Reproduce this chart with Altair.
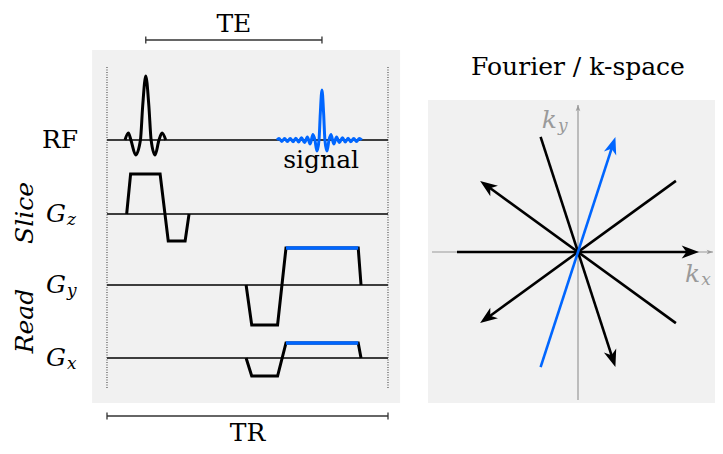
import altair as alt
import numpy as np
import pandas as pd

# ------------------------------------------------------------------
# Pulse sequence (time in arbitrary units, TR = 100; amplitudes in a.u.)
TR = 100.0
lanes = ["RF", "Gz", "Gy", "Gx"]
lane_level = [-13.2, -20.6, -27.7, -35.0]

# RF excitation (sinc pulse)
rf_t = [6.4, 7.6, 8.5, 10.2, 11.9, 12.7, 13.8, 14.9, 15.7, 17.1, 18.5, 19.6, 20.9]
rf_a = [0.0, 0.7, 0.0, -1.5, 0.0, 3.4, 6.4, 3.4, 0.0, -1.5, 0.0, 0.7, 0.0]

# echo signal
sig_t = [60.5, 61.2, 62.2, 63.2, 64.2, 65.2, 66.2, 67.2, 68.2, 69.2, 70.3, 71.3, 72.3,
         73.3, 74.0, 74.7, 75.45, 75.9, 76.5,
         77.1, 77.55, 78.3, 79.0, 79.7, 80.7, 81.7, 82.7, 83.8, 84.8, 85.8, 86.8,
         87.8, 88.8, 89.8, 90.7]
sig_a = [0.0, 0.14, -0.14, 0.15, -0.15, 0.16, -0.17, 0.18, -0.2, 0.22, -0.26, 0.3, -0.4,
         0.55, 0.0, -1.1, 0.0, 2.6, 5.0,
         2.6, 0.0, -1.1, 0.0, 0.55, -0.4, 0.3, -0.26, 0.22, -0.2, 0.18, -0.17,
         0.16, -0.15, 0.15, 0.0]

# gradients
gz_t = [7.0, 8.4, 18.9, 21.8, 27.8, 29.2]
gz_a = [0.0, 4.0, 4.0, -2.7, -2.7, 0.0]
gy_t = [49.5, 51.5, 60.7, 63.7, 89.4, 90.4]
gy_a = [0.0, -4.0, -4.0, 3.7, 3.7, 0.0]
gx_t = [49.5, 51.5, 60.7, 63.7, 89.4, 90.4]
gx_a = [0.0, -1.8, -1.8, 1.5, 1.5, 0.0]
readout_idx = [3, 4]   # plateau of the read-out gradients

# k-space radial spokes
spoke_angle = [0, 36, 72, 108, 144]
spoke_arrow = [1, -1, 1, -1, 1]          # end that carries the arrowhead
spoke_readout = [False, False, True, False, False]
k_max = 1.0

# ------------------------------------------------------------------
FONT = "DejaVu Serif"
FS = 25
FS_SUB = 17
BLACK = "#000000"
BLUE = "#0066ff"
PANEL = "#f1f1f1"
AXIS_GRAY = "#9a9a9a"
BRACKET = "#333333"
ARROW = "M0,0L0.75,2L0,1.45L-0.75,2Z"

xs_l = alt.Scale(domain=[-35.231, 216.370], nice=False, zero=False)
ys_l = alt.Scale(domain=[-43.8, 0.0], nice=False, zero=False)
xs_r = alt.Scale(domain=[-4.7107, 1.1322], nice=False, zero=False)
ys_r = alt.Scale(domain=[-1.6033, 2.0165], nice=False, zero=False)


def XL(f):
    return alt.X(f, type="quantitative", scale=xs_l, axis=None)


def YL(f):
    return alt.Y(f, type="quantitative", scale=ys_l, axis=None)


def XR(f):
    return alt.X(f, type="quantitative", scale=xs_r, axis=None)


def YR(f):
    return alt.Y(f, type="quantitative", scale=ys_r, axis=None)


# ---------------- left: pulse sequence ----------------
lvl = dict(zip(lanes, lane_level))

panel_l = pd.DataFrame({"t0": [-5.3], "t1": [104.3], "y0": [-4.2], "y1": [-39.5]})
base_df = pd.DataFrame({"lane": lanes, "level": lane_level, "t0": 0.0, "t1": TR})
dot_df = pd.DataFrame({"t": [0.0, TR], "ya": -5.9, "yb": -38.0})

rf_df = pd.DataFrame({"t": rf_t, "y": np.array(rf_a) + lvl["RF"], "i": range(len(rf_t))})
sig_df = pd.DataFrame({"t": sig_t, "y": np.array(sig_a) + lvl["RF"], "i": range(len(sig_t))})

grad_rows = []
for name, tt, aa in [("Gz", gz_t, gz_a), ("Gy", gy_t, gy_a), ("Gx", gx_t, gx_a)]:
    for i, (t, a) in enumerate(zip(tt, aa)):
        grad_rows.append({"lane": name, "t": t, "y": a + lvl[name], "i": i})
grad_df = pd.DataFrame(grad_rows)

ro_rows = []
for name, tt, aa in [("Gy", gy_t, gy_a), ("Gx", gx_t, gx_a)]:
    ro_rows.append({"lane": name, "t0": tt[readout_idx[0]], "t1": tt[readout_idx[1]],
                    "y": aa[readout_idx[0]] + lvl[name]})
ro_df = pd.DataFrame(ro_rows)

t_rf = rf_t[int(np.argmax(rf_a))]
t_echo = sig_t[int(np.argmax(sig_a))]
brk_df = pd.DataFrame({"name": ["TE", "TR"], "t0": [t_rf, 0.0], "t1": [t_echo, TR],
                       "y": [-3.2, -40.8], "ty": [-1.6, -42.5]})
brk_df["tm"] = (brk_df["t0"] + brk_df["t1"]) / 2
tick_df = pd.DataFrame({"t": [t_rf, t_echo, 0.0, TR], "y": [-3.2, -3.2, -40.8, -40.8]})
tick_df["ya"] = tick_df["y"] + 0.35
tick_df["yb"] = tick_df["y"] - 0.35

g_lanes = ["Gz", "Gy", "Gx"]
g_lab = pd.DataFrame({"t": -14.6, "y": [lvl[g] for g in g_lanes], "main": "G",
                      "sub": [g[1] for g in g_lanes]})
g_lab["ys"] = g_lab["y"] - 0.6
rf_lab = pd.DataFrame({"t": [-10.3], "y": [lvl["RF"]], "text": ["RF"]})
grp_lab = pd.DataFrame({"t": -29.2, "y": [-20.5, -31.3], "text": ["Slice", "Read"]})
sig_lab = pd.DataFrame({"t": [t_echo - 0.3], "y": [-15.2], "text": ["signal"]})

left = alt.layer(
    alt.Chart(panel_l).mark_rect(color=PANEL).encode(x=XL("t0"), x2="t1", y=YL("y0"), y2="y1"),
    alt.Chart(base_df).mark_rule(color=BLACK, strokeWidth=1.3).encode(
        x=XL("t0"), x2="t1", y=YL("level")),
    alt.Chart(dot_df).mark_rule(color=BRACKET, strokeWidth=1, strokeDash=[1, 1.5]).encode(
        x=XL("t"), y=YL("ya"), y2="yb"),
    alt.Chart(rf_df).mark_line(color=BLACK, strokeWidth=3, interpolate="monotone").encode(
        x=XL("t"), y=YL("y"), order="i:Q"),
    alt.Chart(sig_df).mark_line(color=BLUE, strokeWidth=3, interpolate="monotone").encode(
        x=XL("t"), y=YL("y"), order="i:Q"),
    alt.Chart(grad_df).mark_line(color=BLACK, strokeWidth=3).encode(
        x=XL("t"), y=YL("y"), detail="lane:N", order="i:Q"),
    alt.Chart(ro_df).mark_rule(color=BLUE, strokeWidth=3.6).encode(
        x=XL("t0"), x2="t1", y=YL("y")),
    alt.Chart(brk_df).mark_rule(color=BRACKET, strokeWidth=1.3).encode(
        x=XL("t0"), x2="t1", y=YL("y")),
    alt.Chart(tick_df).mark_rule(color=BRACKET, strokeWidth=1.3).encode(
        x=XL("t"), y=YL("ya"), y2="yb"),
    alt.Chart(brk_df).mark_text(font=FONT, fontSize=FS, color=BLACK).encode(
        x=XL("tm"), y=YL("ty"), text="name:N"),
    alt.Chart(rf_lab).mark_text(font=FONT, fontSize=FS, color=BLACK, align="right").encode(
        x=XL("t"), y=YL("y"), text="text:N"),
    alt.Chart(g_lab).mark_text(font=FONT, fontSize=FS, fontStyle="italic", color=BLACK,
                               align="right").encode(x=XL("t"), y=YL("y"), text="main:N"),
    alt.Chart(g_lab).mark_text(font=FONT, fontSize=FS_SUB, fontStyle="italic", color=BLACK,
                               align="left", dx=1).encode(x=XL("t"), y=YL("ys"), text="sub:N"),
    alt.Chart(grp_lab).mark_text(font=FONT, fontSize=FS, fontStyle="italic", color=BLACK,
                                 angle=270).encode(x=XL("t"), y=YL("y"), text="text:N"),
    alt.Chart(sig_lab).mark_text(font=FONT, fontSize=FS, color=BLACK).encode(
        x=XL("t"), y=YL("y"), text="text:N"),
)

# ---------------- right: k-space ----------------
panel_r = pd.DataFrame({"k0": [-1.240], "k1": [1.14], "q0": [-1.248], "q1": [1.256]})
kaxis_df = pd.DataFrame({"x0": [-1.207, 0.0], "x1": [1.115, 0.0],
                         "y0": [0.0, -1.223], "y1": [0.0, 1.215]})
kaxis_tip = pd.DataFrame({"x": [1.115, 0.0], "y": [0.0, 1.215], "rot": [90.0, 0.0]})

rows = []
for ang, s, ro in zip(spoke_angle, spoke_arrow, spoke_readout):
    ux, uy = np.cos(np.radians(ang)), np.sin(np.radians(ang))
    end_ang = ang if s > 0 else ang + 180
    rows.append({"x0": -s * k_max * ux, "y0": -s * k_max * uy,
                 "x1": s * 0.92 * k_max * ux, "y1": s * 0.92 * k_max * uy,
                 "tx": s * k_max * ux, "ty": s * k_max * uy,
                 "rot": (90 - end_ang) % 360, "readout": ro})
spokes = pd.DataFrame(rows)
sp_blk = spokes[~spokes["readout"]]
sp_blu = spokes[spokes["readout"]]

title_df = pd.DataFrame({"x": [0.0], "y": [1.529], "text": ["Fourier / k-space"]})
klab = pd.DataFrame({"x": [-0.174, 1.01], "y": [1.09, -0.182], "sub": ["y", "x"]})
klab["ys"] = klab["y"] - 0.05

right = alt.layer(
    alt.Chart(panel_r).mark_rect(color=PANEL).encode(x=XR("k0"), x2="k1", y=YR("q0"), y2="q1"),
    alt.Chart(kaxis_df).mark_rule(color=AXIS_GRAY, strokeWidth=1.2).encode(
        x=XR("x0"), x2="x1", y=YR("y0"), y2="y1"),
    alt.Chart(kaxis_tip).mark_point(shape=ARROW, filled=True, size=40, opacity=1,
                                    color=AXIS_GRAY, strokeWidth=0).encode(
        x=XR("x"), y=YR("y"), angle=alt.Angle("rot:Q", scale=None)),
    alt.Chart(sp_blk).mark_rule(color=BLACK, strokeWidth=2.6).encode(
        x=XR("x0"), x2="x1", y=YR("y0"), y2="y1"),
    alt.Chart(sp_blu).mark_rule(color=BLUE, strokeWidth=2.6).encode(
        x=XR("x0"), x2="x1", y=YR("y0"), y2="y1"),
    alt.Chart(sp_blk).mark_point(shape=ARROW, filled=True, size=300, opacity=1,
                                 color=BLACK, strokeWidth=0).encode(
        x=XR("tx"), y=YR("ty"), angle=alt.Angle("rot:Q", scale=None)),
    alt.Chart(sp_blu).mark_point(shape=ARROW, filled=True, size=300, opacity=1,
                                 color=BLUE, strokeWidth=0).encode(
        x=XR("tx"), y=YR("ty"), angle=alt.Angle("rot:Q", scale=None)),
    alt.Chart(title_df).mark_text(font=FONT, fontSize=FS, color=BLACK).encode(
        x=XR("x"), y=YR("y"), text="text:N"),
    alt.Chart(klab).mark_text(font=FONT, fontSize=FS, fontStyle="italic", color=AXIS_GRAY,
                              align="right", text="k").encode(x=XR("x"), y=YR("y")),
    alt.Chart(klab).mark_text(font=FONT, fontSize=FS_SUB, fontStyle="italic", color=AXIS_GRAY,
                              align="left", dx=1).encode(x=XR("x"), y=YR("ys"), text="sub:N"),
)

chart = alt.layer(left, right).resolve_scale(
    x="independent", y="independent"
).properties(
    width=707, height=438, padding=0, autosize=alt.AutoSizeParams(type="none")
).configure_view(strokeWidth=0)

chart.save("out.html", embed_options={"renderer": "svg", "actions": False})
